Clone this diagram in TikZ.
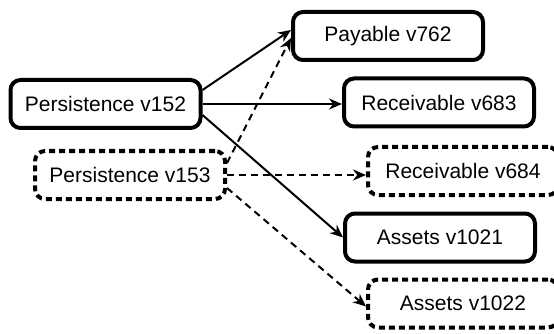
\documentclass[tikz,border=0pt]{standalone}
\usepackage{amsmath, amssymb}
\usepackage{tikz}
\usepackage{xcolor}
\usepackage{fontspec}
\setmainfont{Liberation Sans}
\usetikzlibrary{arrows.meta}

\begin{document}
\begin{tikzpicture}[x=1pt, y=-1pt]
\tikzstyle{block} = [rectangle, draw, line width=4pt, text centered, rounded corners=10pt, minimum width=190pt, minimum height=48pt, font=\fontsize{21}{25}\selectfont]
\tikzstyle{pending} = [block, dash pattern=on 6pt off 4pt]
\tikzstyle{arrow} = [line width=2pt, -{Stealth[length=13pt, width=11pt]}]
\tikzstyle{darrow} = [arrow, dash pattern=on 7pt off 5pt]

\clip (0,0) rectangle (554,334);

\node [block] (p152) at (105.5,104) {Persistence v152};
\node [pending] (p153) at (130,175) {Persistence v153};
\node [block] (pay762) at (388,36) {Payable v762};
\node [block] (rec683) at (439,102.5) {Receivable v683};
\node [pending] (rec684) at (463,171) {Receivable v684};
\node [block] (ast1021) at (440,237.5) {Assets v1021};
\node [pending] (ast1022) at (463,303.5) {Assets v1022};

\draw [arrow] ([yshift=14pt]p152.east) -- ([yshift=6pt]pay762.west);
\draw [arrow] (p152.east) -- (p152.east -| rec683.west);
\draw [arrow] ([yshift=-11pt]p152.east) -- (ast1021.west);
\draw [darrow] ([yshift=12pt]p153.east) -- ([yshift=-2pt]pay762.west);
\draw [darrow] (p153.east) -- (p153.east -| rec684.west);
\draw [darrow] ([yshift=-13pt]p153.east) -- ([yshift=-3pt]ast1022.west);

\end{tikzpicture}
\end{document}
